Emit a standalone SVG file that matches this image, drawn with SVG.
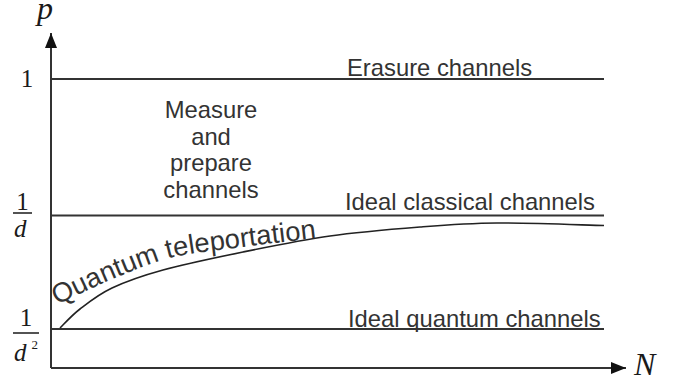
<svg xmlns="http://www.w3.org/2000/svg" width="690" height="381" viewBox="0 0 690 381">
  <style>
    .lbl { font-family: "Liberation Sans", Arial, sans-serif; font-size: 23.8px; fill: #333333; }
    .tele { font-family: "Liberation Sans", Arial, sans-serif; font-size: 27.3px; fill: #333333; }
    .math { font-family: "Liberation Serif", "Times New Roman", serif; font-style: italic; fill: #1a1a1a; }
    .num { font-family: "Liberation Serif", "Times New Roman", serif; fill: #1a1a1a; font-size: 25px; text-anchor: middle; }
    .sup { font-family: "Liberation Serif", "Times New Roman", serif; fill: #1a1a1a; font-size: 13px; }
    .hline { stroke: #333333; stroke-width: 2; fill: none; }
    .axis { stroke: #333333; stroke-width: 2; fill: none; }
    .bar { stroke: #1a1a1a; stroke-width: 1.5; }
  </style>
  <defs>
    <marker id="arrow" markerUnits="userSpaceOnUse" markerWidth="16" markerHeight="14" refX="15" refY="6" orient="auto">
      <path d="M0,0 L15,6 L0,12 z" fill="#111111"/>
    </marker>
    <path id="tpath" d="M57,305 C66.3,300.7 94.2,286.8 113,279 C131.8,271.2 149.7,263.2 170,258 C190.3,252.8 208.3,251.6 235,248 C261.7,244.4 314.2,238.4 330,236.5"/>
  </defs>
  <rect width="690" height="381" fill="#ffffff"/>

  <g id="axes">
    <line class="axis" x1="51" y1="368" x2="51" y2="33" marker-end="url(#arrow)"/>
    <line class="axis" x1="51" y1="368" x2="626" y2="368" marker-end="url(#arrow)"/>
    <text class="math" x="37" y="19" style="font-size:32px">p</text>
    <text class="math" x="634" y="375" style="font-size:32px">N</text>
  </g>

  <g id="connectors">
    <line class="hline" x1="51" y1="79" x2="604" y2="79"/>
    <line class="hline" x1="51" y1="215.5" x2="604" y2="215.5"/>
    <line class="hline" x1="51" y1="329" x2="604" y2="329"/>
    <path d="M60,328 C63.3,324.8 71.3,315.7 80,309 C88.7,302.3 98.2,294.5 112,288 C125.8,281.5 141.2,276 163,270 C184.8,264 215.2,257.7 243,252 C270.8,246.3 300.5,240.2 330,236 C359.5,231.8 392.2,229.2 420,227 C447.8,224.8 466.3,223.25 497,223 C527.7,222.75 586.2,225.1 604,225.5" stroke="#222222" stroke-width="1.6" fill="none"/>
  </g>

  <g id="ticks">
    <text class="num" x="27" y="87">1</text>
    <text class="num" x="22.5" y="210">1</text>
    <line class="bar" x1="13" y1="213" x2="32" y2="213"/>
    <text class="math" x="14" y="237" style="font-size:25px">d</text>
    <text class="num" x="26" y="326">1</text>
    <line class="bar" x1="13" y1="333" x2="39" y2="333"/>
    <text class="math" x="14" y="361" style="font-size:25px">d</text>
    <text class="sup" x="31.5" y="348.5">2</text>
  </g>

  <g id="erasure">
    <text class="lbl" x="347" y="76">Erasure channels</text>
  </g>
  <g id="measure">
    <text class="lbl" x="211" y="118" text-anchor="middle">Measure</text>
    <text class="lbl" x="211" y="145" text-anchor="middle">and</text>
    <text class="lbl" x="211" y="171" text-anchor="middle">prepare</text>
    <text class="lbl" x="211" y="198" text-anchor="middle">channels</text>
  </g>
  <g id="classical">
    <text class="lbl" x="345" y="210">Ideal classical channels</text>
  </g>
  <g id="quantum">
    <text class="lbl" x="348" y="327">Ideal quantum channels</text>
  </g>
  <g id="teleportation">
    <text class="tele"><textPath href="#tpath">Quantum teleportation</textPath></text>
  </g>
</svg>
